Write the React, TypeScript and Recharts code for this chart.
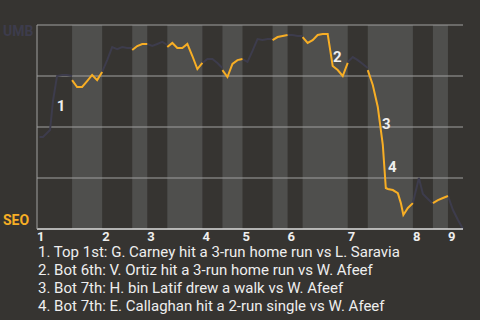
import React from 'react';
import { LineChart, Line, XAxis, YAxis, ReferenceArea, ReferenceLine, ReferenceDot } from 'recharts';

// Half-inning boundaries (plate-appearance index); even halves = top (UMB bats), odd = bottom (SEO bats)
const halfStart = [0, 7, 13, 19, 22, 26, 33, 37, 41, 47, 50, 53, 62, 66, 75, 79, 82, 85];
const inningLabels = ['1', '2', '3', '4', '5', '6', '7', '8', '9'];

// Win probability for UMB, per half-inning
const halfX: number[][] = [
  [0.5, 1.2, 2.6, 3.2, 4, 5, 6, 7],
  [7, 8, 9, 10, 11, 12, 13],
  [13, 14, 15, 16, 17, 18, 19],
  [19, 20, 21, 22],
  [22, 23, 24, 25, 26],
  [26, 27, 28, 29, 30, 31, 32, 33],
  [33, 34, 35, 36, 37],
  [37, 38, 39, 40, 41],
  [41, 42, 43, 44, 45, 46, 47],
  [47, 48, 49, 50],
  [50, 51, 52, 53],
  [53, 54, 55, 56, 57, 58, 59, 60, 61, 62],
  [62, 63, 64, 65, 66],
  [66, 67, 68, 69, 69.6, 70, 71, 72, 72.6, 73.1, 74, 75],
  [75, 76.2, 77, 78, 79],
  [79, 80, 81, 82],
  [82, 83, 84, 85],
];
const halfWp: number[][] = [
  [0.451, 0.451, 0.485, 0.63, 0.75, 0.755, 0.755, 0.75],
  [0.73, 0.696, 0.696, 0.725, 0.755, 0.73, 0.77],
  [0.77, 0.828, 0.892, 0.882, 0.892, 0.887, 0.887],
  [0.877, 0.897, 0.907, 0.907],
  [0.907, 0.897, 0.907, 0.917, 0.902],
  [0.892, 0.912, 0.887, 0.887, 0.907, 0.848, 0.784, 0.814],
  [0.814, 0.833, 0.833, 0.814, 0.789],
  [0.779, 0.745, 0.809, 0.828, 0.833],
  [0.833, 0.819, 0.873, 0.931, 0.926, 0.931, 0.931],
  [0.926, 0.941, 0.946, 0.951],
  [0.951, 0.951, 0.946, 0.946],
  [0.941, 0.912, 0.926, 0.951, 0.956, 0.956, 0.799, 0.779, 0.75, 0.814],
  [0.819, 0.843, 0.828, 0.809, 0.789],
  [0.779, 0.706, 0.598, 0.412, 0.201, 0.196, 0.191, 0.176, 0.127, 0.069, 0.103, 0.127],
  [0.127, 0.25, 0.172, 0.147, 0.123],
  [0.127, 0.142, 0.152, 0.162],
  [0.162, 0.093, 0.044, 0],
];

const gridValues = [0.25, 0.5, 0.75, 1];
const noteIds = ['1', '2', '3', '4'];
const noteX = [4.8, 59.9, 69.7, 70.9];
const noteWp = [0.605, 0.843, 0.515, 0.304];
const noteTexts = [
  '1. Top 1st: G. Carney hit a 3-run home run vs L. Saravia',
  '2. Bot 6th: V. Ortiz hit a 3-run home run vs W. Afeef',
  '3. Bot 7th: H. bin Latif drew a walk vs W. Afeef',
  '4. Bot 7th: E. Callaghan hit a 2-run single vs W. Afeef',
];

const BG = '#363431';
const BAND = '#4f4f4d';
const GRAY = '#3d3c4c';
const ORANGE = '#f7ae25';
const TEXT = '#eeeeee';
const FONT = 'Roboto, "Noto Sans", sans-serif';

type Row = { x: number; umb: number | null; seo: number | null };
const rows: Row[] = [];
halfX.forEach((xs, h) => {
  xs.forEach((x, i) => {
    const v = halfWp[h][i];
    rows.push({ x, umb: h % 2 === 0 ? v : null, seo: h % 2 === 1 ? v : null });
  });
});

const inningTicks = halfStart.filter((_, i) => i % 2 === 0 && i < 17);
const bands = halfStart
  .map((s, i) => ({ s, e: halfStart[i + 1], i }))
  .filter((b) => b.i % 2 === 1 && b.e !== undefined);

const XTick = (props: any) => {
  const { x, y, payload } = props;
  const idx = inningTicks.indexOf(payload.value);
  return (
    <text x={x} y={y + 12} textAnchor="start" fill={TEXT} fontSize={13} fontWeight="bold" fontFamily={FONT}>
      {inningLabels[idx]}
    </text>
  );
};

const YTick = (props: any) => {
  const { y, payload } = props;
  if (payload.value === 1) {
    return (
      <text x={3} y={y + 11} textAnchor="start" fill={GRAY} fontSize={14} fontWeight="bold" fontFamily={FONT}>
        UMB
      </text>
    );
  }
  if (payload.value === 0) {
    return (
      <text x={3} y={y - 4} textAnchor="start" fill={ORANGE} fontSize={14} fontWeight="bold" fontFamily={FONT}>
        SEO
      </text>
    );
  }
  return <g />;
};

export default function App() {
  return (
    <div style={{ position: 'absolute', left: 0, top: 0, width: 480, height: 320, background: BG, fontFamily: FONT }}>
      <LineChart width={480} height={250} data={rows} margin={{ top: 25, right: 17, bottom: 0, left: 0 }}>
        <XAxis
          type="number"
          dataKey="x"
          domain={[0, 85]}
          ticks={inningTicks}
          interval={0}
          tick={<XTick />}
          tickLine={false}
          tickSize={0}
          tickMargin={0}
          axisLine={{ stroke: '#dddddd', strokeWidth: 1.5 }}
          height={21}
        />
        <YAxis
          type="number"
          domain={[0, 1]}
          ticks={[0, 0.25, 0.5, 0.75, 1]}
          interval={0}
          tick={<YTick />}
          tickLine={false}
          tickSize={0}
          tickMargin={0}
          axisLine={{ stroke: '#a0a0a0' }}
          width={37}
        />
        {bands.map((b) => (
          <ReferenceArea key={'b' + b.i} x1={b.s} x2={b.e} y1={0} y2={1} fill={BAND} fillOpacity={1} stroke="none" />
        ))}
        {gridValues.map((v) => (
          <ReferenceLine key={'g' + v} y={v} stroke="#a0a0a0" strokeWidth={1} />
        ))}
        <Line type="linear" dataKey="umb" stroke={GRAY} strokeWidth={2} dot={false} connectNulls={false} isAnimationActive={false} />
        <Line type="linear" dataKey="seo" stroke={ORANGE} strokeWidth={2} dot={false} connectNulls={false} isAnimationActive={false} />
        {noteIds.map((n, i) => (
          <ReferenceDot
            key={'n' + n}
            x={noteX[i]}
            y={noteWp[i]}
            r={0}
            fill="none"
            stroke="none"
            label={{ value: n, position: 'center', fill: TEXT, fontSize: 15, fontWeight: 'bold', fontFamily: FONT }}
          />
        ))}
      </LineChart>
      <div style={{ position: 'absolute', left: 38, top: 243, fontSize: 15, lineHeight: '18px', color: TEXT, whiteSpace: 'nowrap' }}>
        {noteTexts.map((t) => (
          <div key={t}>{t}</div>
        ))}
      </div>
    </div>
  );
}
